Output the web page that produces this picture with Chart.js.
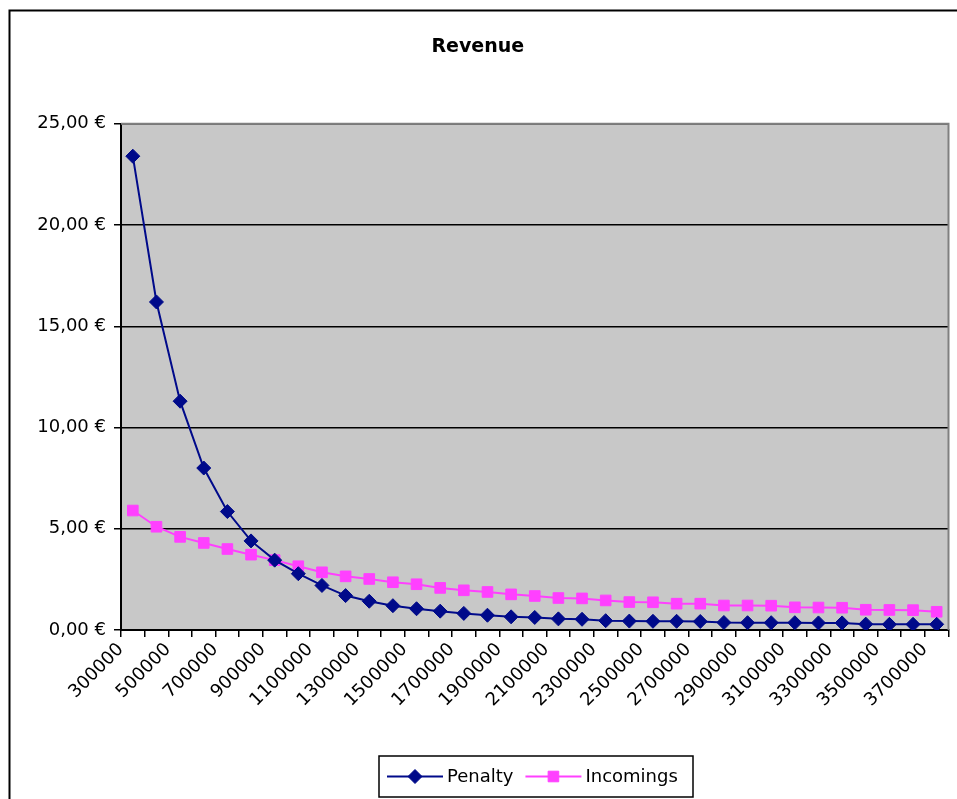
<!DOCTYPE html>
<html>
<head>
<meta charset="utf-8">
<script src="https://cdn.jsdelivr.net/npm/chart.js@4/dist/chart.umd.min.js"></script>
<style>
  html, body { margin: 0; padding: 0; background: #ffffff; }
  #wrap { width: 957px; height: 799px; position: relative; }
</style>
</head>
<body>
<div id="wrap"><canvas id="revenueChart" width="957" height="799"></canvas></div>
<script>
// categories (x axis)
const categories = [
  300000, 400000, 500000, 600000, 700000, 800000, 900000, 1000000, 1100000, 1200000,
  1300000, 1400000, 1500000, 1600000, 1700000, 1800000, 1900000, 2000000, 2100000, 2200000,
  2300000, 2400000, 2500000, 2600000, 2700000, 2800000, 2900000, 3000000, 3100000, 3200000,
  3300000, 3400000, 3500000, 3600000, 3700000
];

// series values
const penalty = [
  23.4, 16.2, 11.3, 8.0, 5.85, 4.4, 3.45, 2.78, 2.2, 1.7,
  1.42, 1.2, 1.05, 0.93, 0.82, 0.73, 0.65, 0.62, 0.55, 0.53,
  0.46, 0.44, 0.43, 0.43, 0.42, 0.37, 0.36, 0.36, 0.36, 0.35,
  0.35, 0.29, 0.28, 0.28, 0.28
];
const incomings = [
  5.9, 5.1, 4.6, 4.3, 4.0, 3.72, 3.45, 3.15, 2.85, 2.65,
  2.52, 2.36, 2.26, 2.08, 1.96, 1.88, 1.76, 1.68, 1.58, 1.56,
  1.46, 1.38, 1.37, 1.3, 1.3, 1.21, 1.21, 1.2, 1.12, 1.11,
  1.1, 1.0, 0.99, 0.98, 0.9
];

// y axis ticks
const yTicks = [0, 5, 10, 15, 20, 25];

Chart.defaults.font.family = "'DejaVu Sans', sans-serif";
Chart.defaults.color = '#000000';

// grauer Plotbereich + Rahmen
const framePlugin = {
  id: 'framePlugin',
  beforeDraw(chart) {
    const { ctx, chartArea: a } = chart;
    ctx.save();
    ctx.fillStyle = '#c8c8c8';
    ctx.fillRect(a.left, a.top, a.right - a.left, a.bottom - a.top);
    ctx.restore();
  },
  beforeDatasetsDraw(chart) {
    const { ctx, chartArea: a } = chart;
    ctx.save();
    ctx.strokeStyle = '#808080';
    ctx.lineWidth = 2;
    ctx.beginPath();
    ctx.moveTo(a.left, a.top);
    ctx.lineTo(a.right, a.top);
    ctx.lineTo(a.right, a.bottom);
    ctx.stroke();
    ctx.restore();
  },
  afterDraw(chart) {
    const { ctx } = chart;
    ctx.save();
    ctx.strokeStyle = '#000000';
    ctx.lineWidth = 2;
    ctx.strokeRect(9.5, 10.5, 1000, 1000);
    ctx.restore();
  }
};

// Legende mit Linie + Marker in einem Kasten (wie Excel)
const boxLegendPlugin = {
  id: 'boxLegendPlugin',
  afterDraw(chart) {
    const { ctx } = chart;
    const box = { left: 379, top: 756, right: 693, bottom: 797 };
    const cy = (box.top + box.bottom) / 2;
    ctx.save();
    ctx.fillStyle = '#ffffff';
    ctx.fillRect(box.left, box.top, box.right - box.left, box.bottom - box.top);
    ctx.strokeStyle = '#000000';
    ctx.lineWidth = 1.5;
    ctx.strokeRect(box.left, box.top, box.right - box.left, box.bottom - box.top);
    ctx.font = "18px 'DejaVu Sans', sans-serif";
    ctx.textBaseline = 'middle';
    ctx.textAlign = 'left';
    let x = box.left + 8;
    chart.data.datasets.forEach((ds) => {
      ctx.strokeStyle = ds.borderColor;
      ctx.fillStyle = ds.pointBackgroundColor;
      ctx.lineWidth = 2;
      ctx.beginPath();
      ctx.moveTo(x, cy);
      ctx.lineTo(x + 56, cy);
      ctx.stroke();
      ctx.lineWidth = 1;
      Chart.helpers.drawPoint(ctx, {
        pointStyle: ds.pointStyle,
        radius: ds.pointRadius,
        borderWidth: 1
      }, x + 28, cy);
      ctx.fillStyle = '#000000';
      ctx.fillText(ds.label, x + 60, cy + 1);
      x += 60 + ctx.measureText(ds.label).width + 12;
    });
    ctx.restore();
  }
};

const ctxRev = document.getElementById('revenueChart').getContext('2d');
new Chart(ctxRev, {
  type: 'line',
  data: {
    labels: categories.map(String),
    datasets: [{
      label: 'Penalty',
      data: penalty,
      borderColor: '#000a8a',
      backgroundColor: '#000a8a',
      borderWidth: 2,
      tension: 0,
      pointStyle: 'rectRot',
      pointRadius: 7,
      pointBackgroundColor: '#000a8a',
      pointBorderColor: '#000a8a',
      pointBorderWidth: 1
    }, {
      label: 'Incomings',
      data: incomings,
      borderColor: '#ff40ff',
      backgroundColor: '#ff40ff',
      borderWidth: 2,
      tension: 0,
      pointStyle: 'rect',
      pointRadius: 7.5,
      pointBackgroundColor: '#ff40ff',
      pointBorderColor: '#ff40ff',
      pointBorderWidth: 1
    }]
  },
  plugins: [framePlugin, boxLegendPlugin],
  options: {
    responsive: false,
    animation: false,
    layout: { padding: { left: 0, right: 1.5, top: 0, bottom: 0 } },
    plugins: {
      legend: { display: false },
      tooltip: { enabled: false },
      title: {
        display: true,
        text: 'Revenue',
        color: '#000000',
        font: { size: 19, weight: 'bold', family: "'DejaVu Sans', sans-serif", lineHeight: 1.2 },
        padding: { top: 36, bottom: 65 }
      }
    },
    scales: {
      x: {
        offset: true,
        afterFit(scale) {
          scale.height = 169;
          scale.paddingRight = 0;
        },
        grid: {
          offset: true,
          drawOnChartArea: false,
          color: '#000000',
          lineWidth: 1.5,
          tickLength: 7
        },
        border: { color: '#000000', width: 2 },
        ticks: {
          autoSkip: false,
          minRotation: 45,
          maxRotation: 45,
          padding: 2,
          labelOffset: -12,
          font: { size: 18 },
          color: '#000000',
          callback(val, i) { return i % 2 === 0 ? this.getLabelForValue(val) : ''; }
        }
      },
      y: {
        min: yTicks[0],
        max: yTicks[yTicks.length - 1],
        afterFit(scale) { scale.width = 121; },
        afterBuildTicks(scale) { scale.ticks = yTicks.map(v => ({ value: v })); },
        grid: { color: '#000000', lineWidth: 1.5, tickLength: 7 },
        border: { color: '#000000', width: 2 },
        ticks: {
          padding: 8,
          font: { size: 18 },
          color: '#000000',
          callback(v) { return v.toFixed(2).replace('.', ',') + ' €'; }
        }
      }
    }
  }
});
</script>
</body>
</html>
